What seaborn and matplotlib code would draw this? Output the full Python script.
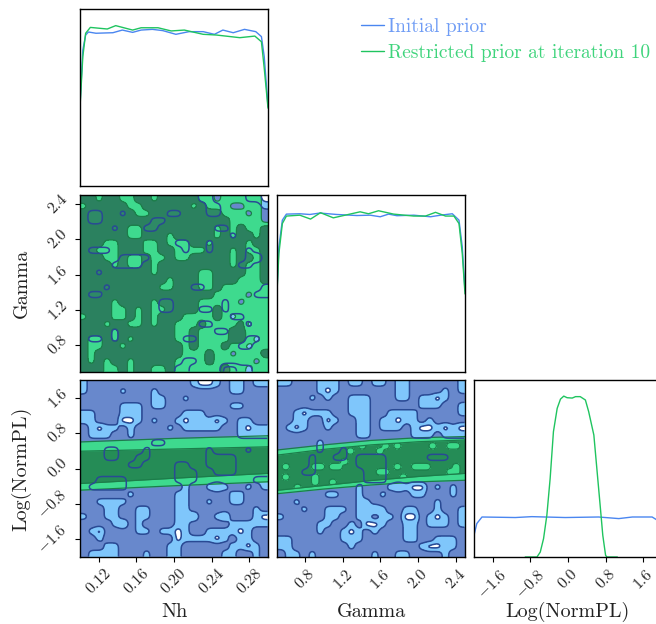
import numpy as np
import matplotlib
matplotlib.use("Agg")
import matplotlib.pyplot as plt
import seaborn as sns

# Corner plot, initial prior vs restricted prior
sns.set_style("white")
plt.rcParams["font.family"] = "cmr10"
plt.rcParams["mathtext.fontset"] = "cm"
plt.rcParams["axes.unicode_minus"] = False
plt.rcParams["axes.formatter.use_mathtext"] = True

blue_line = "#4a86f0"
green_line = "#1fc45f"
blue_text = "#6f9cf5"
green_text = "#3fd47c"
main_blue = "#6888cc"
light_blue = "#7fc6fb"
edge_blue = "#294a94"
bright_green = (0.24, 0.87, 0.55, 0.96)
dark_green = (0.13, 0.50, 0.30, 0.86)
edge_green = "#1c7d4a"

nh_range = (0.1, 0.3)
gamma_range = (0.5, 2.5)
norm_range = (-2.0, 2.0)

nh_ticks = [0.12, 0.16, 0.20, 0.24, 0.28]
nh_labels = ["0.12", "0.16", "0.20", "0.24", "0.28"]
gamma_ticks = [0.8, 1.2, 1.6, 2.0, 2.4]
gamma_labels = ["0.8", "1.2", "1.6", "2.0", "2.4"]
norm_ticks = [-1.6, -0.8, 0.0, 0.8, 1.6]
norm_labels = ["$-1.6$", "$-0.8$", "0.0", "0.8", "1.6"]

# 1D marginals
nh_x_init = [.1, .103, .106, .109, .117, .135, .145, .156, .165, .177, .188, .202, .216, .231, .243, .252, .263, .275, .287, .293, .296, .3]
nh_y_init = [.458, .768, .853, .870, .863, .866, .881, .868, .881, .885, .878, .857, .872, .872, .857, .881, .866, .885, .872, .844, .731, .45]
nh_x_restr = [.1, .103, .106, .111, .129, .138, .156, .165, .183, .197, .211, .231, .245, .27, .286, .293, .296, .3]
nh_y_restr = [.445, .731, .863, .896, .887, .906, .881, .894, .894, .876, .881, .857, .853, .838, .847, .815, .665, .44]

gamma_x_init = [.5, .52, .557, .6, .742, .849, .956, 1.135, 1.349, 1.491, 1.598, 1.687, 1.776, 1.955, 2.133, 2.24, 2.365, 2.436, 2.471, 2.5]
gamma_y_init = [.460, .706, .858, .892, .894, .890, .898, .890, .884, .886, .877, .892, .883, .886, .877, .886, .894, .858, .706, .460]
gamma_x_restr = [.5, .52, .557, .6, .742, .857, .963, 1.099, 1.242, 1.384, 1.473, 1.58, 1.741, 1.955, 2.079, 2.186, 2.293, 2.382, 2.436, 2.471, 2.5]
gamma_y_restr = [.451, .669, .839, .881, .886, .864, .900, .871, .888, .905, .894, .911, .892, .881, .881, .902, .881, .881, .839, .669, .441]

norm_x_init = [-2.0, -1.94, -1.83, -1.12, -.77, -.06, .65, 1.08, 1.37, 1.79, 1.9, 2.0]
norm_y_init = [.123, .189, .226, .223, .228, .223, .226, .217, .226, .226, .208, .123]
norm_x_restr = [-.91, -.66, -.59, -.52, -.45, -.38, -.31, -.23, -.16, -.09, -.02, .09, .16, .26, .37, .44, .55, .62, .69, .74, .80, .83, 1.05]
norm_y_restr = [0, 0, .028, .104, .236, .443, .708, .840, .892, .909, .900, .898, .906, .906, .887, .821, .689, .481, .274, .123, .009, 0, 0]

# Density classes, top row first
# initial prior: 2 = main blue, 1 = light blue, 0 = white
# restricted prior: 2 = dark green, 1 = bright green, 0 = nothing
gamma_nh_init = [
    "222222222222222112222110",
    "222222222222222211222221",
    "211221222221122211222222",
    "211222222112222222222222",
    "222212221122222221122222",
    "222222222222222222212222",
    "222222222222112212222222",
    "211122222222212212222122",
    "222221111222222222222102",
    "222211112222222222221122",
    "221222222222222222222222",
    "222222222222222222222222",
    "222122222222221122222221",
    "211222222222222222222211",
    "222222222211222222122222",
    "222222222211222112122222",
    "222222222222222222211222",
    "222222222222222112222122",
    "222212222222222221122222",
    "211212222222211222222112",
    "222222222222222222221122",
    "222222222222222222222222",
    "222222222222211222222222",
    "222222222222112222001122",
]
gamma_nh_restr = [
    "221221122122222110111110",
    "122222112222221211100110",
    "222222211222222222111010",
    "222222222222222222211110",
    "222222112222222221212112",
    "222222112221222221212212",
    "222112221121112212222122",
    "221112221122111122212112",
    "222112112112112222212212",
    "222212112122222222212112",
    "222222222122222112222112",
    "222222222221222112221112",
    "222222222211222112111111",
    "222222222222222221111011",
    "222212222122222111110111",
    "222211212112222112111111",
    "122211212122211112101111",
    "222122112122111211112011",
    "222212222222112111122111",
    "211212122222112111122101",
    "211221222222212111211011",
    "212222222222211121101112",
    "212122122222111121111101",
    "222112122112111111211011",
]
norm_nh_init = [
    "122222222222221001211211",
    "122221222122222222211222",
    "222222222112212222222222",
    "222221112112222222211222",
    "112221112222211122222222",
    "112220012122101110121122",
    "210112122221211111221011",
    "211122122222222222221111",
    "222222222112222222222222",
    "222112221222222212222122",
    "222112211222222211112222",
    "222222112222112211112222",
    "222222222222111221112222",
    "221111222222111222222211",
    "211111222222212210122121",
    "222222122222112222211222",
    "221111222222112212211222",
    "222112211222112222222212",
    "122112211222110221022210",
    "222210212222112222211111",
    "210222211211012211110122",
    "221222222222011110121122",
    "222112222221122222211012",
    "211112221221122222112212",
]
norm_gamma_init = [
    "112221112112112112222221",
    "222221012222222112222121",
    "222212122111222112110122",
    "222222222111222222111221",
    "221011122111221111222221",
    "221122012211211011212222",
    "210122122211211121001010",
    "222222222211222221112111",
    "222221222222222222222222",
    "222221221222222222222222",
    "222212211211112222211122",
    "222212222211112222222222",
    "222112222221112222222222",
    "222222222221112222222222",
    "222222222212221010021212",
    "222222112212212221122212",
    "221222222211222222221222",
    "222122111211012211221221",
    "122222112211211200210121",
    "222221122120012211211121",
    "222221221012122211222222",
    "112222221112222211221112",
    "112222222122222222100112",
    "211212222222122112222122",
]

# Restricted prior band in the Log(NormPL) row, edges at the panel left, middle, right
band_nh_x = [0.1, 0.2, 0.3]
band_nh_outer_top = [0.60, 0.68, 0.74]
band_nh_inner_top = [0.39, 0.44, 0.49]
band_nh_inner_bot = [-0.34, -0.22, -0.11]
band_nh_outer_bot = [-0.49, -0.39, -0.30]
band_gamma_x = [0.5, 1.0, 1.5, 2.0, 2.5]
band_gamma_outer_top = [0.415, 0.53, 0.63, 0.69, 0.717]
band_gamma_inner_top = [0.30, 0.43, 0.53, 0.60, 0.64]
band_gamma_inner_bot = [-0.49, -0.38, -0.27, -0.18, -0.11]
band_gamma_outer_bot = [-0.566, -0.46, -0.37, -0.30, -0.264]

# Bright patches inside the dark part of the Gamma / Log(NormPL) band (y from 0.8 to -0.6)
patch_gamma = [
    "00000000000000000000000000000000",
    "00000000000000000000000000000000",
    "00000000000000100010100000100110",
    "00000000000010000100000000000000",
    "00000000000000000000000000000000",
    "00000000000100000000000000000000",
    "01000011011000000000100111000010",
    "00000000000000000110000000000110",
    "01000010000000000000010000000000",
    "00000010010000000000000000000000",
    "00010000000000000000000000000000",
    "00000000000000000000000000000000",
]


def read_grid(rows, width=24):
    return np.array([[int(c) for c in r.ljust(width, r[-1])[:width]] for r in rows], dtype=float)


def smooth_grid(grid, k=6, sigma=2.1):
    # round off the cell corners so contours look like blobs
    big = np.kron(grid, np.ones((k, k)))
    half = int(3 * sigma)
    kernel = np.exp(-0.5 * (np.arange(-half, half + 1) / sigma) ** 2)
    kernel /= kernel.sum()
    padded = np.pad(big, half, mode="edge")
    padded = np.apply_along_axis(lambda v: np.convolve(v, kernel, mode="same"), 0, padded)
    padded = np.apply_along_axis(lambda v: np.convolve(v, kernel, mode="same"), 1, padded)
    return padded[half:-half, half:-half]


def grid_xy(grid, xlim, ylim):
    ny, nx = grid.shape
    dx = (xlim[1] - xlim[0]) / nx
    dy = (ylim[1] - ylim[0]) / ny
    return (np.linspace(xlim[0] + dx / 2, xlim[1] - dx / 2, nx),
            np.linspace(ylim[0] + dy / 2, ylim[1] - dy / 2, ny))


def draw_initial_fill(ax, rows, xlim, ylim):
    z = smooth_grid(read_grid(rows))[::-1]
    x, y = grid_xy(z, xlim, ylim)
    ax.contourf(x, y, z, levels=[-1, 0.42, 1.4, 3], colors=["white", light_blue, main_blue])
    return x, y, z


def draw_initial_lines(ax, x, y, z):
    ax.contour(x, y, z, levels=[0.42, 1.4], colors=edge_blue, linewidths=1.1)


def draw_band(ax, xs, outer_top, inner_top, inner_bot, outer_bot):
    ax.fill_between(xs, outer_bot, outer_top, color=bright_green, lw=0)
    inner = ax.fill_between(xs, inner_bot, inner_top, color=dark_green, lw=0)
    for edge in (outer_top, inner_top, inner_bot, outer_bot):
        ax.plot(xs, edge, color=edge_green, lw=0.9)
    return inner


# Axes laid out in pixels; the last column runs past the figure edge
fig_w, fig_h = 656, 624
fig = plt.figure(figsize=(fig_w / 100, fig_h / 100), dpi=100)
col_left = [80, 277, 474]
row_top = [9, 195, 380]
panel_w, panel_h = 188, 177


def add_panel(row, col):
    return fig.add_axes([col_left[col] / fig_w, 1 - (row_top[row] + panel_h) / fig_h,
                         panel_w / fig_w, panel_h / fig_h])


ax_nh = add_panel(0, 0)
ax_gamma_nh = add_panel(1, 0)
ax_gamma = add_panel(1, 1)
ax_norm_nh = add_panel(2, 0)
ax_norm_gamma = add_panel(2, 1)
ax_norm = add_panel(2, 2)

# Diagonal
sns.lineplot(x=nh_x_init, y=nh_y_init, ax=ax_nh, color=blue_line, lw=1.0, estimator=None, sort=False)
sns.lineplot(x=nh_x_restr, y=nh_y_restr, ax=ax_nh, color=green_line, lw=1.0, estimator=None, sort=False)
sns.lineplot(x=gamma_x_init, y=gamma_y_init, ax=ax_gamma, color=blue_line, lw=1.0, estimator=None, sort=False)
sns.lineplot(x=gamma_x_restr, y=gamma_y_restr, ax=ax_gamma, color=green_line, lw=1.0, estimator=None, sort=False)
sns.lineplot(x=norm_x_init, y=norm_y_init, ax=ax_norm, color=blue_line, lw=1.0, estimator=None, sort=False)
sns.lineplot(x=norm_x_restr, y=norm_y_restr, ax=ax_norm, color=green_line, lw=1.0, estimator=None, sort=False)
ax_nh.set_xlim(nh_range)
ax_gamma.set_xlim(gamma_range)
ax_norm.set_xlim(norm_range)
for ax in (ax_nh, ax_gamma, ax_norm):
    ax.set_ylim(0, 1)

# Gamma vs Nh
x, y, z = draw_initial_fill(ax_gamma_nh, gamma_nh_init, nh_range, gamma_range)
g = smooth_grid(read_grid(gamma_nh_restr))[::-1]
ax_gamma_nh.contourf(x, y, g, levels=[0.42, 1.4, 3], colors=[bright_green, dark_green])
ax_gamma_nh.contour(x, y, g, levels=[0.42, 1.4], colors=edge_green, linewidths=0.9)
draw_initial_lines(ax_gamma_nh, x, y, z)

# Log(NormPL) vs Nh
x, y, z = draw_initial_fill(ax_norm_nh, norm_nh_init, nh_range, norm_range)
draw_band(ax_norm_nh, band_nh_x, band_nh_outer_top, band_nh_inner_top, band_nh_inner_bot, band_nh_outer_bot)
draw_initial_lines(ax_norm_nh, x, y, z)

# Log(NormPL) vs Gamma
x, y, z = draw_initial_fill(ax_norm_gamma, norm_gamma_init, gamma_range, norm_range)
inner = draw_band(ax_norm_gamma, band_gamma_x, band_gamma_outer_top, band_gamma_inner_top,
                  band_gamma_inner_bot, band_gamma_outer_bot)
p = smooth_grid(read_grid(patch_gamma, width=32), k=6, sigma=1.8)[::-1]
px, py = grid_xy(p, gamma_range, (-0.6, 0.8))
patches = ax_norm_gamma.contourf(px, py, p, levels=[0.32, 2], colors=[bright_green])
patches.set_clip_path(inner.get_paths()[0], ax_norm_gamma.transData)
lines = ax_norm_gamma.contour(px, py, p, levels=[0.32], colors=edge_green, linewidths=0.9)
lines.set_clip_path(inner.get_paths()[0], ax_norm_gamma.transData)
draw_initial_lines(ax_norm_gamma, x, y, z)

# Ticks and labels
label_size = 14.5
tick_size = 11.5
for ax in fig.axes:
    ax.set_xticks([])
    ax.set_yticks([])
    ax.set_xlabel("")
    ax.set_ylabel("")
    for spine in ax.spines.values():
        spine.set_color("black")
        spine.set_linewidth(1.0)
    ax.tick_params(length=3.5, width=0.8, color="black", labelsize=tick_size, bottom=True, left=True)

for ax, ticks, labels, name, lim in [
    (ax_norm_nh, nh_ticks, nh_labels, "Nh", nh_range),
    (ax_norm_gamma, gamma_ticks, gamma_labels, "Gamma", gamma_range),
    (ax_norm, norm_ticks, norm_labels, "Log(NormPL)", norm_range),
]:
    ax.set_xticks(ticks)
    ax.set_xticklabels(labels, rotation=45, ha="center", rotation_mode="default")
    ax.set_xlim(lim)
    ax.set_xlabel(name, fontsize=label_size, color="#222222", va="center")
    ax.xaxis.set_label_coords(0.5, -0.31)

for ax, ticks, labels, name, lim in [
    (ax_gamma_nh, gamma_ticks, gamma_labels, "Gamma", gamma_range),
    (ax_norm_nh, norm_ticks, norm_labels, "Log(NormPL)", norm_range),
]:
    ax.set_yticks(ticks)
    ax.set_yticklabels(labels, rotation=45, va="center", rotation_mode="default")
    ax.set_ylim(lim)
    ax.set_ylabel(name, fontsize=label_size, color="#222222", va="center")
    ax.yaxis.set_label_coords(-0.31, 0.5)

# Legend
legend_handles = [plt.Line2D([], [], color=blue_line, lw=1.0), plt.Line2D([], [], color=green_line, lw=1.0)]
leg = fig.legend(legend_handles, ["Initial prior", "Restricted prior at iteration 10"],
                 loc="upper left", bbox_to_anchor=(361 / fig_w, 1 - 18 / fig_h), frameon=False,
                 fontsize=14, handlelength=1.2, handletextpad=0.2, labelspacing=0.42, borderpad=0, borderaxespad=0)
for text, color in zip(leg.get_texts(), [blue_text, green_text]):
    text.set_color(color)

plt.savefig("out.png", dpi=100)
